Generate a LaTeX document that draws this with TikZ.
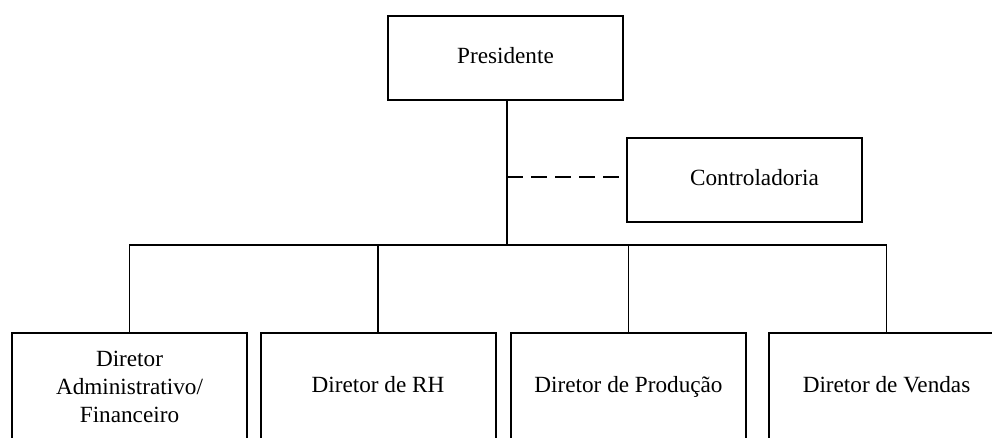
\documentclass[tikz,border=0pt]{standalone}
\usepackage{fontspec}
\setmainfont{Liberation Serif}
\begin{document}
\begin{tikzpicture}[x=0.75pt,y=-0.75pt,
  box/.style={draw,line width=1.5pt,inner sep=0pt,align=center,
    font=\fontsize{17.4}{21}\selectfont},
  topbox/.style={box,minimum width=235*0.75pt,minimum height=84*0.75pt},
  lowbox/.style={box,minimum width=235*0.75pt,minimum height=108*0.75pt},
  link/.style={line width=1.3pt}]
\useasboundingbox (0,0) rectangle (992,437);
\clip (0,0) rectangle (992,437);
\node[topbox] (pres) at (505.5,58) {\strut Presidente};
\node[topbox] (ctrl) at (744.5,180) {\strut\hspace*{15pt}Controladoria};
\node[lowbox] (adm) at (129.5,387) {Diretor\\Administrativo/\\Financeiro};
\node[lowbox] (rh) at (378,387) {\strut Diretor de RH};
\node[lowbox] (prod) at (628.5,387) {\strut Diretor de Produção};
\node[lowbox] (vend) at (886.5,387) {\strut Diretor de Vendas};
\coordinate (dj) at (507,177);
\coordinate (bus) at (507,245);
\draw[link] (pres.south -| dj) -- (bus);
\draw[link,dash pattern=on 12pt off 6pt] (dj) -- (ctrl.west |- dj);
\draw[link] (adm.north) |- (bus) -| (vend.north);
\draw[link] (rh.north) -- (rh.north |- bus);
\draw[link] (prod.north) -- (prod.north |- bus);
\end{tikzpicture}
\end{document}
